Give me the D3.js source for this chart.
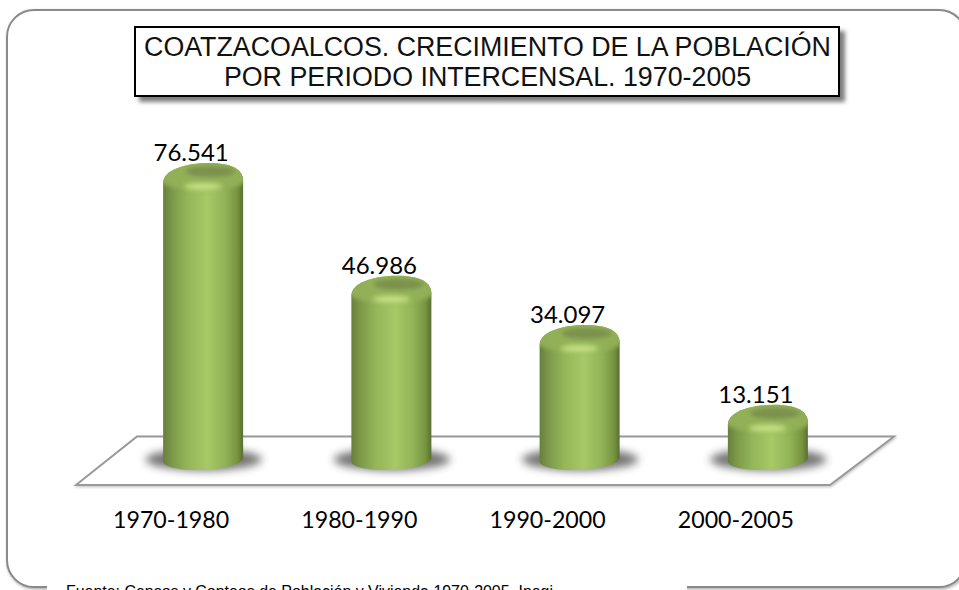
<!DOCTYPE html>
<html><head><meta charset="utf-8">
<script src="https://cdn.jsdelivr.net/npm/d3@7"></script>
<style>html,body{margin:0;padding:0;background:#fff;overflow:hidden}svg{display:block}</style>
</head><body><div id="c"></div>
<script>
const categories = ["1970-1980","1980-1990","1990-2000","2000-2005"];
const values = [76541,46986,34097,13151];
const titleLines = ["COATZACOALCOS. CRECIMIENTO DE LA POBLACIÓN","POR PERIODO INTERCENSAL. 1970-2005"];
const sourceNote = "Fuente: Censos y Conteos de Población y Vivienda 1970-2005. Inegi.";

const W=959,H=590;
const svg=d3.select("#c").append("svg").attr("width",W).attr("height",H);
const defs=svg.append("defs");
const x=d3.scaleBand().domain(categories).range([109,862]).paddingInner(0.575).paddingOuter(0.2875);
const y=d3.scaleLinear().domain([0,76541]).range([455,163]);
const fmt=d3.formatLocale({decimal:",",thousands:".",grouping:[3],currency:["",""]}).format(",");

function blur(id,s){defs.append("filter").attr("id",id).attr("x","-40%").attr("y","-60%").attr("width","180%").attr("height","220%")
  .append("feGaussianBlur").attr("stdDeviation",s);}
blur("b1",1.2);blur("b2",2);blur("b2b",2.6);blur("b3",4);
function shadow(id,dx,dy,s,c,o){defs.append("filter").attr("id",id).attr("x","-5%").attr("y","-15%").attr("width","112%").attr("height","135%")
  .append("feDropShadow").attr("dx",dx).attr("dy",dy).attr("stdDeviation",s).attr("flood-color",c).attr("flood-opacity",o);}
shadow("boxS",5,5,2.2,"#444",0.7);
shadow("floorS",1,1.5,1,"#999",0.5);
shadow("frameS",1,1.5,1.5,"#888",0.7);

const g=defs.append("linearGradient").attr("id","body");
[[0,"#677f3c"],[0.1,"#7a9748"],[0.3,"#94b559"],[0.55,"#a7c966"],[0.78,"#92b257"],[0.93,"#76933f"],[1,"#586f33"]]
 .forEach(s=>g.append("stop").attr("offset",s[0]).attr("stop-color",s[1]));

// frame
svg.append("rect").attr("x",7).attr("y",10).attr("width",959).attr("height",577).attr("rx",27)
  .attr("fill","#fff").attr("stroke","#8a8a8a").attr("stroke-width",2).attr("filter","url(#frameS)");
// source note box hides the frame
svg.append("rect").attr("x",47).attr("y",570).attr("width",640).attr("height",20).attr("fill","#fff");
svg.append("text").attr("x",66).attr("y",596.5).attr("font-family","Liberation Sans").attr("font-size",15.95).attr("fill","#000").text(sourceNote);

// title
svg.append("rect").attr("x",135).attr("y",27).attr("width",704).attr("height",69).attr("fill","#fff")
  .attr("stroke","#000").attr("stroke-width",2).attr("filter","url(#boxS)");
svg.append("g").selectAll("text").data(titleLines).join("text").attr("x",487.5).attr("y",(d,i)=>55.5+i*30.5)
  .attr("text-anchor","middle").attr("font-family","Liberation Sans").attr("font-size",26.8).attr("fill","#111").text(d=>d);

// floor
const fl=x.range()[0], fr=x.range()[1];
svg.append("path").attr("d",`M${fl-33},485 L${fl+28},436.5 L${fr+32},436.5 L${fr-32},485 Z`)
  .attr("fill","#fff").attr("stroke","#999").attr("stroke-width",2).attr("filter","url(#floorS)");

// bars
const bw=x.bandwidth(), y0=y(0);
const bars=svg.append("g").selectAll("g").data(values).join("g");
bars.append("ellipse").attr("cx",(d,i)=>x(categories[i])+bw/2+0.5).attr("cy",y0+4.5).attr("rx",58).attr("ry",11)
  .attr("fill","#666").attr("opacity",0.9).attr("filter","url(#b3)");
function barPath(d,i){
  const a=x(categories[i]),b=a+bw,c=a+bw/2,t=y(d);
  return `M${a},${y0+7} L${a},${t+20} C${a},${t+7} ${c-18},${t} ${c+6},${t} C${b-12},${t} ${b},${t+6} ${b},${t+18} L${b},${y0+4}`+
   ` C${b-4},${y0+10} ${c+18},${y0+15} ${c-8},${y0+15} C${a+16},${y0+15} ${a+1},${y0+12} ${a},${y0+7} Z`;
}
defs.selectAll("clipPath.bc").data(values).join("clipPath").attr("class","bc").attr("id",(d,i)=>"clip"+i)
  .append("path").attr("d",barPath);
bars.append("path").attr("d",barPath).attr("fill","url(#body)");
const caps=bars.append("g").attr("clip-path",(d,i)=>`url(#clip${i})`);
caps.append("ellipse").attr("cx",(d,i)=>x(categories[i])+bw/2).attr("cy",d=>y(d)+12).attr("rx",bw/2+8).attr("ry",16)
  .attr("fill","#93b159").attr("opacity",0.95).attr("filter","url(#b2)");
caps.append("ellipse").attr("cx",(d,i)=>x(categories[i])+bw/2+7).attr("cy",d=>y(d)+8.5).attr("rx",25).attr("ry",5.5)
  .attr("fill","#7b914e").attr("filter","url(#b2)");
caps.append("ellipse").attr("cx",(d,i)=>x(categories[i])+bw/2).attr("cy",d=>y(d)+23.5).attr("rx",19).attr("ry",3.5)
  .attr("fill","#cfe88c").attr("opacity",0.9).attr("filter","url(#b2b)");

// value labels
bars.append("text").attr("x",(d,i)=>x(categories[i])+bw/2-12).attr("y",d=>y(d)-2)
  .attr("text-anchor","middle").attr("font-family","Lato").attr("font-size",24).attr("fill","#000").text(d=>fmt(d));

// category axis
const ax=svg.append("g").attr("transform",`translate(-32,${516})`).call(d3.axisBottom(x).tickSize(0).tickPadding(0));
ax.select(".domain").remove();
ax.selectAll("text").attr("font-family","Lato").attr("font-size",23.2).attr("fill","#000").attr("dy","0.5em");
</script></body></html>
